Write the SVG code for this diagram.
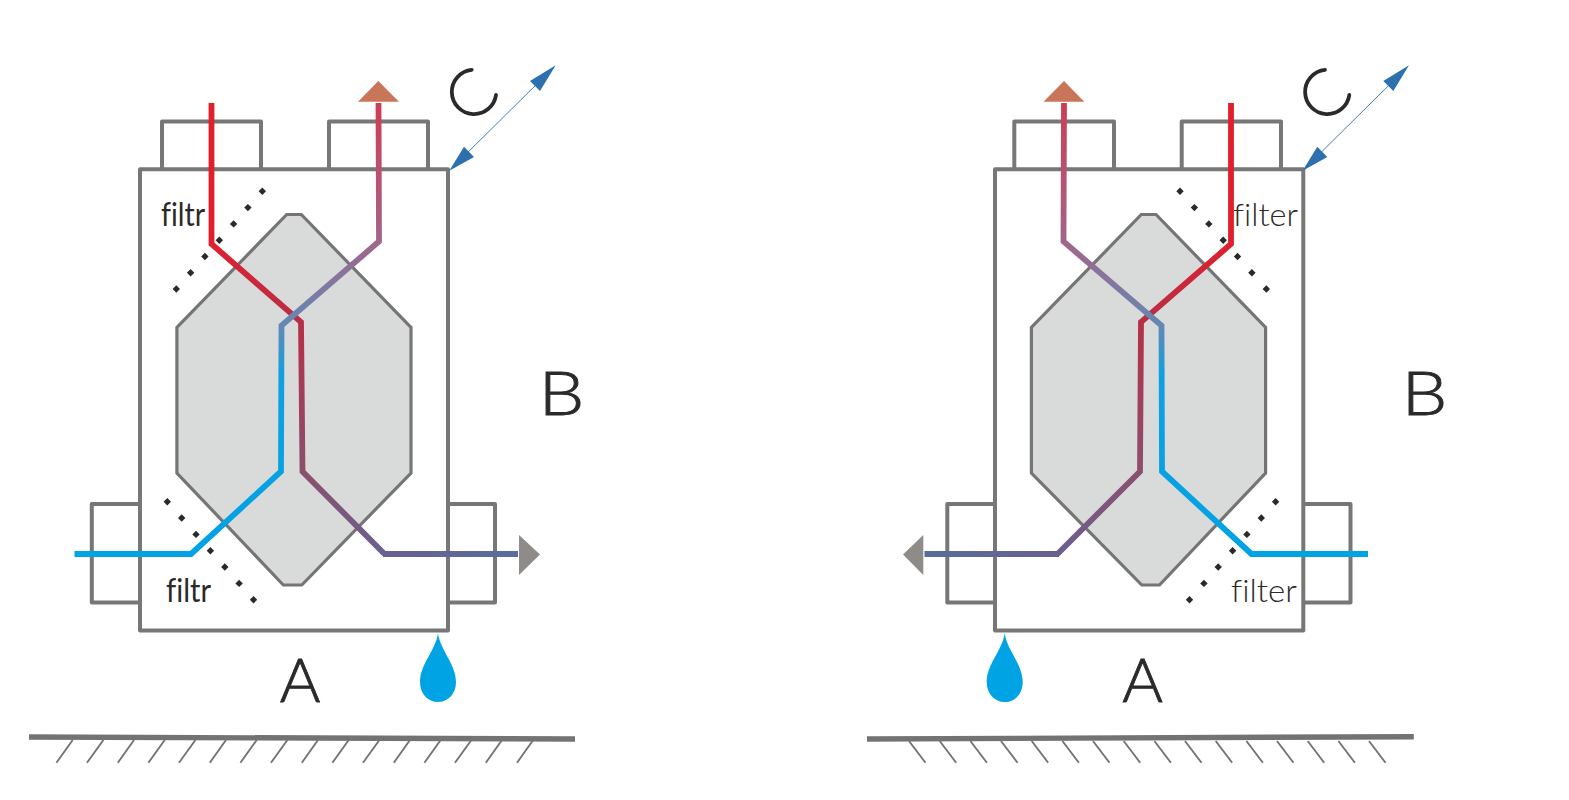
<svg xmlns="http://www.w3.org/2000/svg" xmlns:xlink="http://www.w3.org/1999/xlink" width="1569" height="800" viewBox="0 0 1569 800">
<style>
.box{fill:#fff;stroke:#777776;stroke-width:4;stroke-linejoin:round}
.stub{fill:none;stroke:#777776;stroke-width:4;stroke-linejoin:round}
.hex{fill:#d9dbda;stroke:#757575;stroke-width:3.2;stroke-linejoin:miter}
.flow{fill:none;stroke-width:5.8;stroke-linejoin:miter}
.dot{fill:#2b2a29}
.ground{fill:none;stroke:#737373;stroke-width:5.4}
.hatch{fill:none;stroke:#737373;stroke-width:1.9}
.lbl{font-family:"Lato","Open Sans",sans-serif;fill:#2b2a29;font-variant-ligatures:none}
.big{font-size:62px;font-weight:300;text-anchor:middle;stroke:#2b2a29;stroke-width:0.9}
.small{font-size:32px}
.thin{font-weight:300}
.blue{fill:#2c70ad}
.org{fill:#c97559}
.gry{fill:#8f8b88}
.drop{fill:#00a3e4}
.arc{fill:none;stroke:#2b2a29;stroke-width:3.8;stroke-linecap:round}
</style>
<defs>
<linearGradient id="gHot" gradientUnits="userSpaceOnUse" x1="0" y1="103" x2="0" y2="554">
<stop offset="0" stop-color="#e31e2a"/><stop offset="0.31" stop-color="#e01f2d"/><stop offset="0.49" stop-color="#b53046"/><stop offset="0.82" stop-color="#8b4f6e"/><stop offset="1" stop-color="#6a6090"/>
</linearGradient>
<linearGradient id="gCold" gradientUnits="userSpaceOnUse" x1="0" y1="554" x2="0" y2="103">
<stop offset="0" stop-color="#00a3e4"/><stop offset="0.4" stop-color="#10a0e0"/><stop offset="0.5" stop-color="#5f8ab6"/><stop offset="0.69" stop-color="#a2668a"/><stop offset="1" stop-color="#cf3c54"/>
</linearGradient>
<linearGradient id="gExitL" gradientUnits="userSpaceOnUse" x1="384" y1="0" x2="518" y2="0">
<stop offset="0" stop-color="#6a6090"/><stop offset="1" stop-color="#586d9d"/>
</linearGradient>
<linearGradient id="gExitR" gradientUnits="userSpaceOnUse" x1="1057" y1="0" x2="924" y2="0">
<stop offset="0" stop-color="#6a6090"/><stop offset="1" stop-color="#586d9d"/>
</linearGradient>
<g id="dblArrow">
<line x1="456" y1="164" x2="546" y2="75" stroke="#2c70ad" stroke-width="0.9"/>
<polygon class="blue" points="555.7,65.3 530,81 540,91"/>
<polygon class="blue" points="449.3,170.7 464,146.7 474,157"/>
<path class="arc" d="M471.7,69.8 A22.2,22.2 0 1 0 496,95"/>
</g>
<path id="dropShape" class="drop" d="M438,633 C440,650 456,664 456,682 C456,694 448,702 438,702 C428,702 420,694 420,682 C420,664 436,650 438,633 Z"/>
</defs>

<g id="ground-left">
<path class="ground" d="M29,737 L575,739"/>
<path class="hatch" d="M72.7,740 L56.4,762.7 M103.4,740 L87,762.7 M134,740 L117.8,762.7 M164.7,740 L148.4,762.7 M195.4,740 L179,762.7 M226,740 L209.8,762.7 M256.7,740 L240.4,762.7 M287.4,740 L271,762.7 M318,740 L301.8,762.7 M348.7,740 L332.4,762.7 M379.4,740 L363,762.7 M410,740 L393.8,762.7 M440.7,740 L424.4,762.7 M471.4,740 L455,762.7 M502,740 L485.8,762.7 M533.2,740 L517,762.7"/>
</g>
<g id="ground-right">
<path class="ground" d="M867,739 L1413.8,736.7"/>
<path class="hatch" d="M909,741 L925.5,762.7 M939.7,741 L956.2,762.7 M970.4,741 L986.9,762.7 M1001,741 L1017.5,762.7 M1031.7,741 L1048.2,762.7 M1062.4,741 L1078.9,762.7 M1093,741 L1109.5,762.7 M1123.7,741 L1140.2,762.7 M1154.4,741 L1170.9,762.7 M1185,741 L1201.5,762.7 M1215.7,741 L1232.2,762.7 M1246.4,741 L1262.9,762.7 M1277,741 L1293.5,762.7 M1307.7,741 L1324.2,762.7 M1338.4,741 L1354.9,762.7 M1369,741 L1385.5,762.7"/>
</g>

<g id="unit-left">
<path class="stub" d="M162,169 V121.5 H261 V169 M329,169 V121.5 H428 V169 M140,504 H91.8 V602.5 H140 M448,504 H495 V602.5 H448"/>
<rect class="box" x="140" y="169.3" width="308" height="461.2"/>
<polygon class="hex" points="286.7,214.5 301.3,214.5 411,327.5 411,473 301.8,585 283.3,585 176.9,473 176.9,327.5"/>
</g>
<g id="unit-right">
<path class="stub" d="M1014.3,169 V121.5 H1114 V169 M1181.7,169 V121.5 H1281 V169 M995,504 H947.3 V602.5 H995 M1303.3,504 H1350.5 V602.5 H1303.3"/>
<rect class="box" x="995" y="169.3" width="308.3" height="461.2"/>
<polygon class="hex" points="1141.3,214.5 1156,214.5 1265.6,327.5 1265.6,473 1159.5,585 1141.8,585 1031.4,473 1031.4,327.5"/>
</g>

<g id="filter-left-top">
<g class="dot"><path d="M262.3,187.6l3.7,3.7-3.7,3.7-3.7-3.7z M247.9,203.9l3.7,3.7-3.7,3.7-3.7-3.7z M233.6,220.2l3.7,3.7-3.7,3.7-3.7-3.7z M219.3,236.5l3.7,3.7-3.7,3.7-3.7-3.7z M204.9,252.8l3.7,3.7-3.7,3.7-3.7-3.7z M190.6,269l3.7,3.7-3.7,3.7-3.7-3.7z M176.3,285.3l3.7,3.7-3.7,3.7-3.7-3.7z"/></g>
<text class="lbl small" x="161" y="226" textLength="44" lengthAdjust="spacingAndGlyphs">filtr</text>
</g>
<g id="filter-left-bottom">
<g class="dot"><path d="M167.3,498l3.7,3.7-3.7,3.7-3.7-3.7z M181.7,514.3l3.7,3.7-3.7,3.7-3.7-3.7z M196,530.7l3.7,3.7-3.7,3.7-3.7-3.7z M210.4,547l3.7,3.7-3.7,3.7-3.7-3.7z M224.8,563.3l3.7,3.7-3.7,3.7-3.7-3.7z M239.1,579.7l3.7,3.7-3.7,3.7-3.7-3.7z M253.5,596l3.7,3.7-3.7,3.7-3.7-3.7z"/></g>
<text class="lbl small" x="166" y="602" textLength="45" lengthAdjust="spacingAndGlyphs">filtr</text>
</g>
<g id="filter-right-top">
<g class="dot"><path d="M1180,187.6l3.7,3.7-3.7,3.7-3.7-3.7z M1194.4,203.9l3.7,3.7-3.7,3.7-3.7-3.7z M1208.8,220.2l3.7,3.7-3.7,3.7-3.7-3.7z M1223.2,236.5l3.7,3.7-3.7,3.7-3.7-3.7z M1237.5,252.8l3.7,3.7-3.7,3.7-3.7-3.7z M1251.9,269l3.7,3.7-3.7,3.7-3.7-3.7z M1266.3,285.3l3.7,3.7-3.7,3.7-3.7-3.7z"/></g>
</g>
<g id="filter-right-bottom">
<g class="dot"><path d="M1275.6,498l3.7,3.7-3.7,3.7-3.7-3.7z M1261.3,514.3l3.7,3.7-3.7,3.7-3.7-3.7z M1246.9,530.7l3.7,3.7-3.7,3.7-3.7-3.7z M1232.6,547l3.7,3.7-3.7,3.7-3.7-3.7z M1218.2,563.3l3.7,3.7-3.7,3.7-3.7-3.7z M1203.9,579.7l3.7,3.7-3.7,3.7-3.7-3.7z M1189.5,596l3.7,3.7-3.7,3.7-3.7-3.7z"/></g>
<text class="lbl small thin" x="1231" y="602" textLength="66" lengthAdjust="spacingAndGlyphs">filter</text>
</g>

<g id="connectors">
<path class="flow" stroke="url(#gHot)" d="M211.5,103 V244 L301,322 L302.5,471.5 L384.5,554"/>
<path class="flow" stroke="url(#gExitL)" d="M383,554 H518"/>
<path class="flow" stroke="url(#gCold)" d="M74.5,554 H191 L281,471.5 L281.5,325.5 L379,241.5 L378.5,103"/>
<path class="flow" stroke="url(#gHot)" d="M1231,103 V244 L1141,322 L1140,471.5 L1057.5,554"/>
<path class="flow" stroke="url(#gExitR)" d="M1059,554 H924.5"/>
<path class="flow" stroke="url(#gCold)" d="M1368,554 H1251.5 L1162,471.5 L1161.5,325.5 L1063.5,241.5 L1064,103"/>
</g>
<text id="filter-right-top-label" class="lbl small thin" x="1233" y="226" textLength="65" lengthAdjust="spacingAndGlyphs">filter</text>

<g id="arrows-left">
<polygon class="org" points="378.3,81 358,101.7 399,101.7"/>
<polygon class="gry" points="519,535 540,554.5 519,575"/>
<use xlink:href="#dblArrow" href="#dblArrow"/>
</g>
<g id="arrows-right">
<polygon class="org" points="1064,81 1043.5,101.7 1084.3,101.7"/>
<polygon class="gry" points="923.3,535 903,554.5 923.3,575"/>
<use xlink:href="#dblArrow" href="#dblArrow" transform="translate(853.3,0)"/>
</g>
<g id="drop-left"><use xlink:href="#dropShape" href="#dropShape"/></g>
<g id="drop-right"><use xlink:href="#dropShape" href="#dropShape" transform="translate(566.7,0)"/></g>

<g id="label-A-left"><text class="lbl big" x="300" y="702">A</text></g>
<g id="label-B-left"><text class="lbl big" transform="translate(561.5,415) scale(1.17,1)">B</text></g>
<g id="label-A-right"><text class="lbl big" x="1142.5" y="702">A</text></g>
<g id="label-B-right"><text class="lbl big" transform="translate(1424.5,415) scale(1.17,1)">B</text></g>
</svg>
